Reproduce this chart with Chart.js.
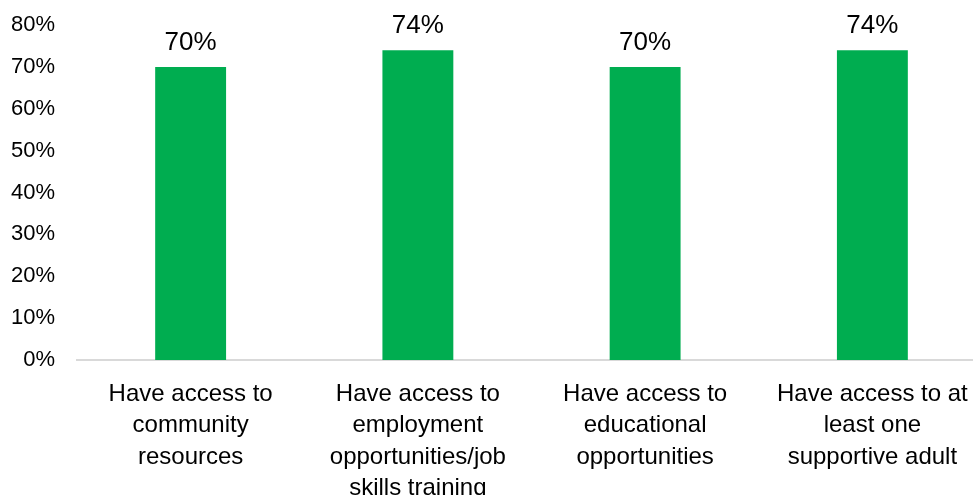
<!DOCTYPE html>
<html>
<head>
<meta charset="utf-8">
<title>Access to resources</title>
<script src="https://cdn.jsdelivr.net/npm/chart.js@4"></script>
<style>
  html, body { margin: 0; padding: 0; background: #fff; overflow: hidden; }
  #wrap { width: 973px; height: 495px; overflow: hidden; }
  /* plot area runs a little past the right edge */
  #inner { width: 986px; height: 495px; }
</style>
</head>
<body>
<div id="wrap"><div id="inner"><canvas id="myChart"></canvas></div></div>
<script>
// Chart data
const categories = [
  ["Have access to", "community", "resources"],
  ["Have access to", "employment", "opportunities/job", "skills training"],
  ["Have access to", "educational", "opportunities"],
  ["Have access to at", "least one", "supportive adult"]
];
const values = [70, 74, 70, 74];
const yTicks = [0, 10, 20, 30, 40, 50, 60, 70, 80];

const FONT = "'Liberation Sans', Arial, sans-serif";

// Value labels above each bar
const barLabels = {
  id: "barLabels",
  afterDatasetsDraw(chart) {
    const ctx = chart.ctx;
    const meta = chart.getDatasetMeta(0);
    ctx.save();
    ctx.font = "26px " + FONT;
    ctx.fillStyle = "#000";
    ctx.textAlign = "center";
    ctx.textBaseline = "alphabetic";
    meta.data.forEach((bar, i) => {
      ctx.fillText(values[i] + "%", bar.x, bar.y - 17);
    });
    ctx.restore();
  }
};

const ctx = document.getElementById("myChart").getContext("2d");
new Chart(ctx, {
  type: "bar",
  data: {
    labels: categories,
    datasets: [{
      data: values,
      backgroundColor: "#00AD50",
      categoryPercentage: 1,
      barPercentage: 0.312
    }]
  },
  options: {
    responsive: true,
    maintainAspectRatio: false,
    animation: false,
    layout: { padding: { top: 25, right: 0, left: 0, bottom: 0 } },
    plugins: {
      legend: { display: false },
      tooltip: { enabled: false }
    },
    scales: {
      x: {
        grid: { display: true, drawOnChartArea: false, drawTicks: false },
        border: { display: true, color: "#d9d9d9", width: 2 },
        ticks: {
          color: "#000",
          font: { family: FONT, size: 24, lineHeight: 1.3 },
          padding: 19,
          maxRotation: 0,
          autoSkip: false
        },
        afterFit(scale) {
          scale.height = 135;
          scale.paddingLeft = 0;
          scale.paddingRight = 0;
        }
      },
      y: {
        min: 0,
        max: 80,
        grid: { display: false, drawTicks: false },
        border: { display: false },
        afterBuildTicks(scale) {
          scale.ticks = yTicks.map(v => ({ value: v }));
        },
        ticks: {
          color: "#000",
          font: { family: FONT, size: 22 },
          padding: 22,
          callback: v => v + "%"
        },
        afterFit(scale) {
          scale.width = 77;
          scale.paddingTop = 0;
          scale.paddingBottom = 0;
        }
      }
    }
  },
  plugins: [barLabels]
});
</script>
</body>
</html>
